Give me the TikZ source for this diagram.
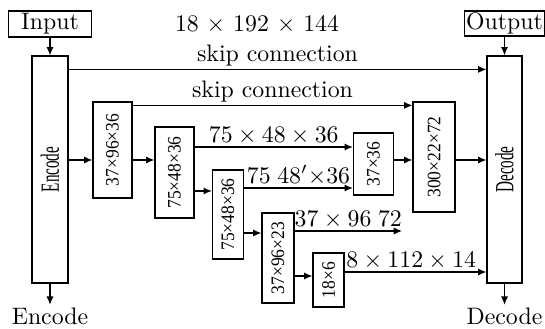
\documentclass[tikz,border=0pt]{standalone}
\usepackage{fontspec}
\usepackage{graphicx}
\newfontfamily\narrowfont{Liberation Serif}
\usetikzlibrary{arrows.meta,positioning,calc}
\newcommand{\px}{0.42pt}
\newcommand{\dimlab}[1]{\rotatebox{90}{\scalebox{0.92}[1]{\fontsize{8}{9}\narrowfont #1}}}
\newcommand{\partlab}[1]{\rotatebox{90}{\scalebox{0.58}[1]{\fontsize{11}{12}\narrowfont #1}}}

\begin{document}
\begin{tikzpicture}[x=\px,y=-\px,
  blk/.style 2 args={draw,line width=0.5pt,inner sep=0pt,minimum width=#1*\px,minimum height=#2*\px},
  arr/.style={line width=0.5pt,-{Latex[length=3.5pt,width=3pt]}},
  lab/.style={inner sep=1pt}]
\useasboundingbox (0,0) rectangle (545,329);
\node[blk={83}{26}] (inp) at (50,24) {Input};
\node[blk={80}{25}] (out) at (504.5,23.5) {Output};
\node (size) at (257,24) {18 $\times$ 192 $\times$ 144};
\node[blk={36}{227}] (enc) at (50,169.5) {\partlab{Encode}};
\node[blk={35}{227}] (dec) at (504.5,169.5) {\partlab{Decode}};
\node[lab] (encl) at (50,316) {Encode};
\node[lab] (decl) at (504.5,316) {Decode};
\node[blk={39}{96}] (b1) at (112.5,150) {\dimlab{37×96×36}};
\node[blk={39}{91}] (b2) at (174.5,172.5) {\dimlab{75×48×36}};
\node[blk={31}{89}] (b3) at (228,214.5) {\dimlab{75×48×36}};
\node[blk={32}{90}] (b4) at (278,258) {\dimlab{37×96×23}};
\node[blk={31}{54}] (b5) at (328.5,280) {\dimlab{18×6}};
\node[blk={40}{62}] (b6) at (373.5,164) {\dimlab{37×36}};
\node[blk={42}{110}] (b7) at (434,157) {\dimlab{300×22×72}};
\coordinate (b1in) at ($(b1.west)+(0,10)$);
\coordinate (b2in) at ($(b2.west)+(0,-12.5)$);
\coordinate (b3in) at ($(b3.west)+(0,-23.5)$);
\coordinate (b4in) at ($(b4.west)+(0,-25)$);
\coordinate (b5in) at ($(b5.west)+(0,-4)$);
\coordinate (b6up) at ($(b6.west)+(0,-17)$);
\coordinate (b6dn) at ($(b6.west)+(0,24)$);
\coordinate (b7in) at ($(b7.west)+(0,3)$);
\coordinate (b5out) at ($(b5.east)+(0,-8)$);
\coordinate (b4out) at (402,231);
\draw[arr] (inp) -- (enc);
\draw[arr] (enc) -- (encl);
\draw[arr] (out) -- (dec);
\draw[arr] (dec) -- (decl);
\draw[arr] ($(enc.north east)+(0,14)$) -- ($(dec.north west)+(0,14)$) node[midway,above,lab] {skip connection};
\draw[arr] ($(b1.north east)+(0,4)$) -- ($(b7.north west)+(0,4)$) node[midway,above,lab] {skip connection};
\draw[arr] (enc.east |- b1in) -- (b1in);
\draw[arr] (b1.east |- b2in) -- (b2in);
\draw[arr] (b2.east |- b6up) -- (b6up) node[midway,above,lab] {$75\times48\times36$};
\draw[arr] (b2.east |- b3in) -- (b3in);
\draw[arr] (b3.east |- b6dn) -- (b6dn) node[midway,above,lab] {$75\;48'{\times}36$};
\draw[arr] (b3.east |- b4in) -- (b4in);
\draw[arr] (b4.east |- b4out) -- (b4out) node[midway,above,lab] {$37\times96\;72$};
\draw[arr] (b4.east |- b5in) -- (b5in);
\draw[arr] (b5out) -- (dec.west |- b5out) node[pos=0.47,above,lab] {$8\times112\times14$};
\draw[arr] (b6.east |- b7in) -- (b7in);
\draw[arr] ($(b7.east)+(0,3)$) -- (dec.west |- b7in);
\end{tikzpicture}
\end{document}
